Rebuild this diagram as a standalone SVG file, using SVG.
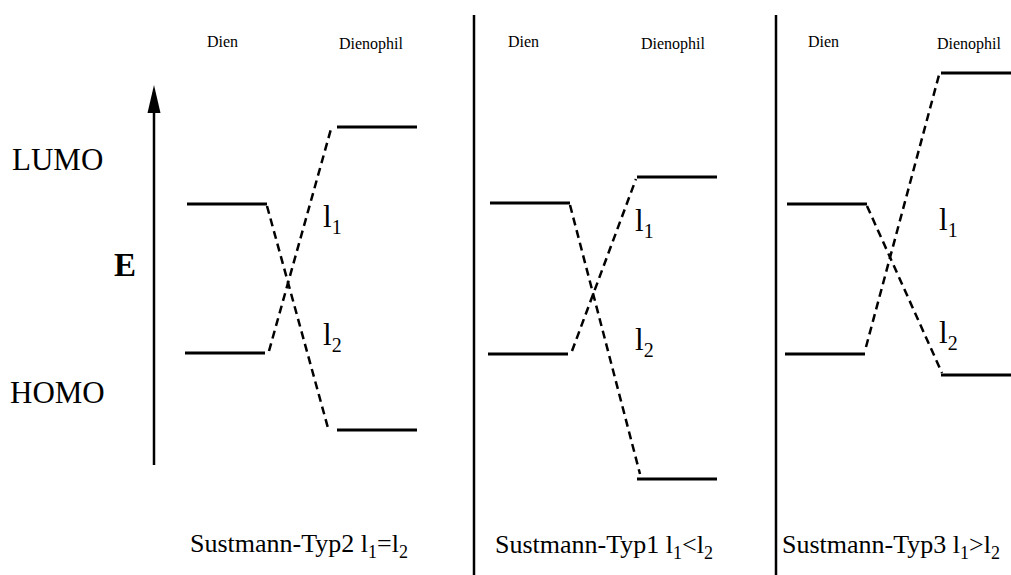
<svg xmlns="http://www.w3.org/2000/svg" width="1011" height="575" viewBox="0 0 1011 575" font-family="'Liberation Serif', 'Times New Roman', serif">
<style>
text{font-family:"Liberation Serif","Times New Roman",serif;fill:#000}
.lvl{stroke:#000;stroke-width:3;fill:none}
.dash{stroke:#000;stroke-width:2.5;stroke-dasharray:8,5;fill:none}
.div{stroke:#000;stroke-width:2.5}
.hdr{font-size:16px;font-family:"Liberation Serif","Times New Roman",serif}
.big{font-size:31px}
.cap{font-size:26px}
.sub{font-size:20px}
.csub{font-size:18px}
</style>
<g id="axis">
<line x1="154" y1="465" x2="154" y2="112" stroke="#000" stroke-width="2.5"/>
<path d="M154,85 L160.5,113 L147.5,113 Z" fill="#000"/>
<text class="big" x="12" y="170">LUMO</text>
<text x="114" y="276" style="font-size:33px;font-weight:bold">E</text>
<text class="big" x="10" y="403">HOMO</text>
</g>
<g id="dividers">
<line class="div" x1="474" y1="15" x2="474" y2="575"/>
<line class="div" x1="776" y1="15" x2="776" y2="575"/>
</g>
<g id="panel1">
<text class="hdr" x="207" y="47">Dien</text>
<text class="hdr" x="339" y="49">Dienophil</text>
<line class="lvl" x1="187" y1="204" x2="267" y2="204"/>
<line class="lvl" x1="185" y1="353" x2="265" y2="353"/>
<line class="lvl" x1="337" y1="127" x2="417" y2="127"/>
<line class="lvl" x1="337" y1="430" x2="417" y2="430"/>
<text class="big" x="323" y="227">l<tspan class="sub" dy="7">1</tspan></text>
<text class="big" x="323" y="345">l<tspan class="sub" dy="7">2</tspan></text>
<text class="cap" x="190" y="552">Sustmann-Typ2 l<tspan class="csub" dy="6">1</tspan><tspan dy="-6">=l</tspan><tspan class="csub" dy="6">2</tspan></text>
</g>
<g id="panel2">
<text class="hdr" x="508" y="47">Dien</text>
<text class="hdr" x="641" y="49">Dienophil</text>
<line class="lvl" x1="490" y1="203" x2="570" y2="203"/>
<line class="lvl" x1="488" y1="354" x2="568" y2="354"/>
<line class="lvl" x1="637" y1="177" x2="717" y2="177"/>
<line class="lvl" x1="637" y1="479" x2="717" y2="479"/>
<text class="big" x="635" y="231">l<tspan class="sub" dy="7">1</tspan></text>
<text class="big" x="635" y="350">l<tspan class="sub" dy="7">2</tspan></text>
<text class="cap" x="495" y="553">Sustmann-Typ1 l<tspan class="csub" dy="6">1</tspan><tspan dy="-6">&lt;l</tspan><tspan class="csub" dy="6">2</tspan></text>
</g>
<g id="panel3">
<text class="hdr" x="808" y="47">Dien</text>
<text class="hdr" x="937" y="49">Dienophil</text>
<line class="lvl" x1="787" y1="204" x2="867" y2="204"/>
<line class="lvl" x1="785" y1="354" x2="865" y2="354"/>
<line class="lvl" x1="941" y1="73" x2="1011" y2="73"/>
<line class="lvl" x1="941" y1="375" x2="1011" y2="375"/>
<text class="big" x="939" y="230">l<tspan class="sub" dy="7">1</tspan></text>
<text class="big" x="939" y="343">l<tspan class="sub" dy="7">2</tspan></text>
<text class="cap" x="782" y="553">Sustmann-Typ3 l<tspan class="csub" dy="6">1</tspan><tspan dy="-6">&gt;l</tspan><tspan class="csub" dy="6">2</tspan></text>
</g>
<g id="connectors">
<line class="dash" x1="267" y1="206" x2="328" y2="428"/>
<line class="dash" x1="269" y1="351" x2="331" y2="129"/>
<line class="dash" x1="570" y1="205" x2="640" y2="474"/>
<line class="dash" x1="572" y1="351" x2="636" y2="179"/>
<line class="dash" x1="867" y1="206" x2="942" y2="373"/>
<line class="dash" x1="866" y1="347" x2="939" y2="75"/>
</g>
</svg>
